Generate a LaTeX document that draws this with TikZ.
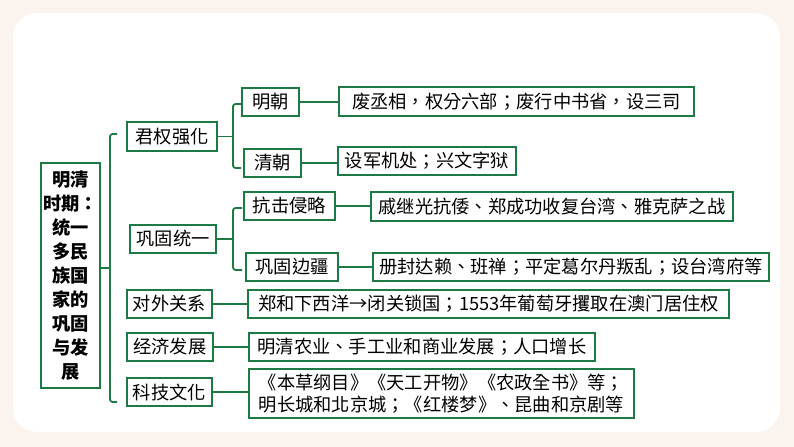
\documentclass[tikz,border=0pt]{standalone}
\usepackage{fontspec}
\setmainfont{Noto Sans CJK SC}
\newfontfamily\cjk{Noto Sans CJK TC}
\definecolor{gr}{RGB}{30,122,68}
\definecolor{peach}{HTML}{FBF3EE}
\begin{document}
\begin{tikzpicture}[x=0.75pt,y=-0.75pt,
  bx/.style={draw=gr,line width=1.4pt,inner sep=0pt,minimum height=21pt,align=center,
    font=\cjk\fontsize{13.7}{16.5}\selectfont,text=black},
  ln/.style={draw=gr,line width=1.4pt},
  brk/.style={draw=gr,line width=1.4pt,rounded corners=2pt}]
\useasboundingbox (0,0) rectangle (794,447);
\fill[peach] (0,0) rectangle (794,447);
\fill[white,rounded corners=18pt] (13,13) rectangle (780,432);
% root
\node[bx,minimum width=44.25pt,minimum height=168.75pt,font=\cjk\bfseries\fontsize{13.7}{18}\selectfont] (root) at (70.5,275.5)
  {明清\\时期：\\统一\\多民\\族国\\家的\\巩固\\与发\\展};
% level 1
\node[bx,minimum width=67.5pt,minimum height=21.75pt] (jq) at (172,136.5) {君权强化};
\node[bx,minimum width=64.5pt] (gt) at (173,239) {巩固统一};
\node[bx,minimum width=63.75pt] (dw) at (169.5,304) {对外关系};
\node[bx,minimum width=64.5pt] (jj) at (170,347) {经济发展};
\node[bx,minimum width=63.75pt] (kj) at (169.5,392) {科技文化};
% level 2
\node[bx,minimum width=42.75pt] (mc) at (270.5,102) {明朝};
\node[bx,minimum width=42.75pt] (qc) at (272.5,163) {清朝};
\node[bx,minimum width=68.25pt] (kq) at (289.5,206) {抗击侵略};
\node[bx,minimum width=69pt] (gb) at (292,267) {巩固边疆};
% leaves
\node[bx,minimum width=266.25pt,minimum height=21.75pt] (l1) at (516.5,101.5) {废丞相，权分六部；废行中书省，设三司};
\node[bx,minimum width=133.5pt] (l2) at (427,161) {设军机处；兴文字狱};
\node[bx,minimum width=271.5pt,minimum height=21.75pt] (l3) at (552,206.5) {戚继光抗倭、郑成功收复台湾、雅克萨之战};
\node[bx,minimum width=297pt] (l4) at (571,267) {册封达赖、班禅；平定葛尔丹叛乱；设台湾府等};
\node[bx,minimum width=360.75pt] (l5) at (488.5,304) {郑和下西洋→闭关锁国；1553年葡萄牙攫取在澳门居住权};
\node[bx,minimum width=259.5pt] (l6) at (422,347) {明清农业、手工业和商业发展；人口增长};
\node[bx,minimum width=288.75pt,minimum height=36.75pt] (l7) at (441.5,393.5) {《本草纲目》《天工开物》《农政全书》等；\\明长城和北京城；《红楼梦》、昆曲和京剧等};
% root bracket
\coordinate (rj) at (110,268);
\coordinate (rt) at (117,134);
\coordinate (rb) at (117,402);
\draw[ln] ([yshift=5.6pt]root.east) -- (rj);
\draw[brk] (rt) -- (110,134) -- (110,402) -- (rb);
% jq bracket
\coordinate (jqj) at (233,136.5);
\coordinate (jqt) at (241,104);
\coordinate (jqb) at (241,168);
\draw[ln] (jq.east) -- (jqj);
\draw[brk] (jqt) -- (233,104) -- (233,168) -- (jqb);
% gt bracket
\coordinate (gtj) at (233,239);
\coordinate (gtt) at (242,208);
\coordinate (gtb) at (242,270);
\draw[ln] (gt.east) -- (gtj);
\draw[brk] (gtt) -- (233,208) -- (233,270) -- (gtb);
% horizontal connectors
\draw[ln] (mc.east) -- (mc.east -| l1.west);
\draw[ln] (qc.east) -- (qc.east -| l2.west);
\draw[ln] (kq.east) -- (kq.east -| l3.west);
\draw[ln] (gb.east) -- (gb.east -| l4.west);
\draw[ln] (dw.east) -- (dw.east -| l5.west);
\draw[ln] (jj.east) -- (jj.east -| l6.west);
\draw[ln] (kj.east) -- (kj.east -| l7.west);
\end{tikzpicture}
\end{document}
